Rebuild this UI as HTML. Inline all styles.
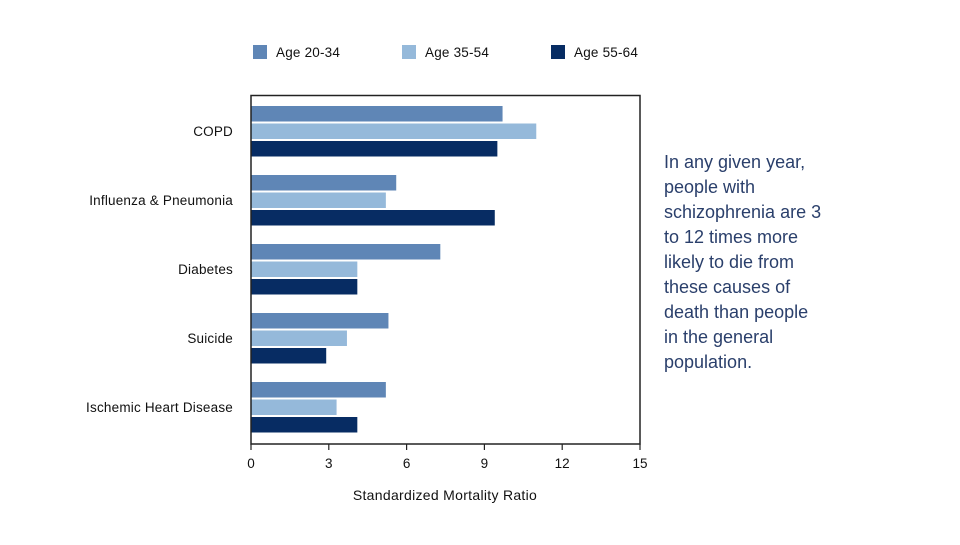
<!DOCTYPE html>
<html><head><meta charset="utf-8"><style>
body{margin:0;background:#fff;width:960px;height:540px;overflow:hidden;font-family:"Liberation Sans",sans-serif}
</style></head><body>
<svg width="960" height="540" id="svg" xmlns="http://www.w3.org/2000/svg">
<g id="legend"></g>
<g id="bars"></g>
<rect x="251" y="95.5" width="389" height="348.5" fill="none" stroke="#222" stroke-width="1.5"/>
<g id="axis"></g>
<text x="445" y="500" text-anchor="middle" font-size="14" letter-spacing="0.3" fill="#111">Standardized Mortality Ratio</text>
<text font-size="18" fill="#2a3f6b">
<tspan x="664" y="168">In any given year,</tspan>
<tspan x="664" y="193">people with</tspan>
<tspan x="664" y="218">schizophrenia are 3</tspan>
<tspan x="664" y="243">to 12 times more</tspan>
<tspan x="664" y="268">likely to die from</tspan>
<tspan x="664" y="293">these causes of</tspan>
<tspan x="664" y="318">death than people</tspan>
<tspan x="664" y="343">in the general</tspan>
<tspan x="664" y="368">population.</tspan>
</text>
</svg>
<script>
const categories=["COPD","Influenza & Pneumonia","Diabetes","Suicide","Ischemic Heart Disease"];
const seriesNames=["Age 20-34","Age 35-54","Age 55-64"];
const age2034=[9.7,5.6,7.3,5.3,5.2];
const age3554=[11.0,5.2,4.1,3.7,3.3];
const age5564=[9.5,9.4,4.1,2.9,4.1];
const ticks=[0,3,6,9,12,15];
const colors=["#5f86b6","#95b9da","#072c63"];
const NS="http://www.w3.org/2000/svg";
const x0=251,x1=640,xmax=15;
const xs=v=>x0+v/xmax*(x1-x0);
const gy=i=>106+i*69;
function mk(t,a,p){const e=document.createElementNS(NS,t);for(const k in a)e.setAttribute(k,a[k]);p.appendChild(e);return e;}
const bars=document.getElementById('bars');
[age2034,age3554,age5564].forEach((s,si)=>{s.forEach((v,i)=>{
 const r=mk('rect',{x:x0,y:gy(i)+si*17.5,width:xs(v)-x0,height:15.5,fill:colors[si]},bars);
 
 
});});
categories.forEach((c,i)=>{
 const t=mk('text',{x:233,y:gy(i)+30,'text-anchor':'end','font-size':13.5,'letter-spacing':0.2,fill:'#111'},bars);t.textContent=c;
 
 
});
const ax=document.getElementById('axis');
ticks.forEach(v=>{
 mk('line',{x1:xs(v),x2:xs(v),y1:444,y2:450,stroke:'#222','stroke-width':1.2},ax);
 const t=mk('text',{x:xs(v),y:468,'text-anchor':'middle','font-size':13.5,fill:'#111'},ax);t.textContent=v;
 
 
});
const lg=document.getElementById('legend');
const lx=[253,402,551];
seriesNames.forEach((n,i)=>{
 const r=mk('rect',{x:lx[i],y:45,width:14,height:14,fill:colors[i]},lg);
 
 
 const t=mk('text',{x:lx[i]+23,y:57,'font-size':13.5,'letter-spacing':0.2,fill:'#111'},lg);t.textContent=n;
 
 
});
</script>
</body></html>
